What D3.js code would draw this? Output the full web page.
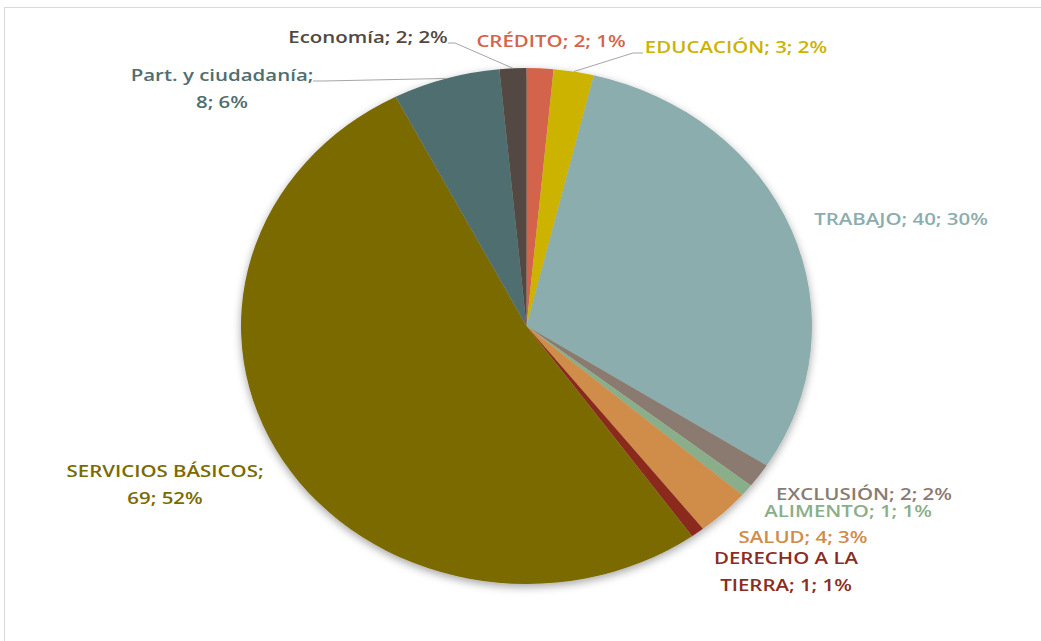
<!DOCTYPE html>
<html lang="es">
<head>
<meta charset="utf-8"/>
<title>Pie</title>
<script src="https://d3js.org/d3.v7.min.js"></script>
<style>
  body { margin: 0; background: #fff; }
  .lbl { font-family: "Open Sans", Lato, sans-serif; font-size: 16.5px; font-weight: 600; }
  .leader { fill: none; stroke: #a6a6a6; stroke-width: 1; }
</style>
</head>
<body>
<svg id="chart" width="1041" height="641"></svg>
<script>
// data, clockwise from 12 o'clock
var categories = ["CRÉDITO", "EDUCACIÓN", "TRABAJO", "EXCLUSIÓN", "ALIMENTO", "SALUD",
                  "DERECHO A LA TIERRA", "SERVICIOS BÁSICOS", "Part. y ciudadanía", "Economía"];
var values = [2, 3, 40, 2, 1, 4, 1, 69, 8, 2];
var percents = ["1%", "2%", "30%", "2%", "1%", "3%", "1%", "52%", "6%", "2%"];
var colors = ["#d4644b", "#cbb300", "#8badad", "#8a7a70", "#8bae8a", "#d08c48",
              "#8b2c1e", "#7a6a00", "#4f6e70", "#524842"];

// label layout (center x, first baseline y, break index, leader elbow/end)
var labelLayout = [
  {x: 551, y: 47},
  {x: 736, y: 53, lead: [[633, 53], [643, 53]]},
  {x: 901, y: 225},
  {x: 864, y: 500},
  {x: 848, y: 517},
  {x: 803, y: 543},
  {x: 786, y: 564, br: 12},
  {x: 165, y: 477, br: 18},
  {x: 222, y: 81, br: 19, lead: [[323, 81], [313, 81]]},
  {x: 368, y: 43, lead: [[455, 43], [448, 43]]}
];

var svg = d3.select("#chart");
var cx = 526.5, cy = 326, ry = 258, rx = 285.5;
var sx = rx / ry;     // the picture is stretched sideways
var tsx = 1.24;       // text stretch

// frame
svg.append("rect")
  .attr("x", 4.5).attr("y", 7.5)
  .attr("width", 1100).attr("height", 700)
  .attr("fill", "#fff")
  .attr("stroke", "#d9d9d9");

var defs = svg.append("defs");
var f = defs.append("filter").attr("id", "shadow")
  .attr("x", "-10%").attr("y", "-10%").attr("width", "120%").attr("height", "120%");
f.append("feDropShadow")
  .attr("dx", 0).attr("dy", 3)
  .attr("stdDeviation", 4)
  .attr("flood-color", "#000")
  .attr("flood-opacity", 0.35);

var data = categories.map(function(c, i) { return {cat: c, value: values[i], pct: percents[i], color: colors[i]}; });

var pie = d3.pie().sort(null).value(function(d) { return d.value; });
var arcs = pie(data);
var arc = d3.arc().innerRadius(0).outerRadius(ry);

var g = svg.append("g")
  .attr("transform", "translate(" + cx + "," + cy + ") scale(" + sx + ",1)")
  .attr("filter", "url(#shadow)");

g.selectAll("path")
  .data(arcs)
  .enter().append("path")
    .attr("d", arc)
    .attr("fill", function(d) { return d.data.color; });

// leader lines from slice mid point on the rim
arcs.forEach(function(a) {
  var L = labelLayout[a.index];
  if (!L.lead) return;
  var m = (a.startAngle + a.endAngle) / 2;
  var p = [cx + rx * Math.sin(m), cy - ry * Math.cos(m)];
  svg.append("path")
    .attr("class", "leader")
    .attr("d", d3.line()([p, L.lead[0], L.lead[1]]));
});

// labels
arcs.forEach(function(a) {
  var d = a.data, L = labelLayout[a.index];
  var full = d.cat + "; " + d.value + "; " + d.pct;
  var lines = L.br ? [full.slice(0, L.br).trim(), full.slice(L.br).trim()] : [full];
  var t = svg.append("text")
    .attr("class", "lbl")
    .attr("fill", d.color)
    .attr("text-anchor", "middle")
    .attr("transform", "translate(" + L.x + "," + L.y + ") scale(" + tsx + ",1)");
  lines.forEach(function(s, k) {
    t.append("tspan").attr("x", 0).attr("y", k * 27.5).text(s);
  });
});
</script>
</body>
</html>
